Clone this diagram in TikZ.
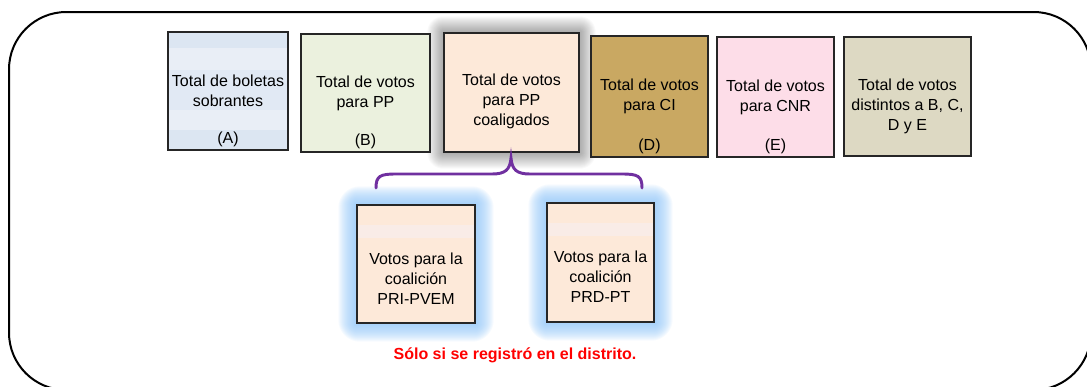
\documentclass[tikz,border=0pt]{standalone}
\usepackage{fontspec}
\setmainfont{Liberation Sans}
\usetikzlibrary{positioning,backgrounds}

\definecolor{fillA}{HTML}{DCE6F2}
\definecolor{bandA}{HTML}{E9EEF6}
\definecolor{fillB}{HTML}{EBF1DE}
\definecolor{fillC}{HTML}{FDE9D9}
\definecolor{bandC}{HTML}{F9ECE7}
\definecolor{fillD}{HTML}{C9A862}
\definecolor{fillE}{HTML}{FDDDE8}
\definecolor{fillF}{HTML}{DDD9C3}
\definecolor{glowblue}{HTML}{8EC4F8}
\definecolor{braceviolet}{HTML}{7030A0}

\begin{document}
\begin{tikzpicture}[x=0.75pt, y=-0.75pt,
    votebox/.style={draw=black!85, line width=1.1pt, inner sep=2pt, align=center,
      font=\fontsize{12}{15}\selectfont},
    tagtext/.style={anchor=south, inner sep=2.5pt, font=\fontsize{12}{15}\selectfont},
    brace/.style={draw=braceviolet, line width=2.2pt, line cap=round},
    glowb/.style={fill=glowblue, opacity=0.075},
    glowg/.style={fill=black, opacity=0.022},
    notetext/.style={text=red, font=\bfseries\fontsize{12}{15}\selectfont}
  ]
  \useasboundingbox (0,0) rectangle (1087,386);
  \clip (0,0) rectangle (1087,386);

  % outer frame
  \draw[line width=1.5pt, rounded corners=43pt] (9,12) rectangle (1091,390);

  % top row
  \node[votebox, fill=fillA, minimum width=90pt, minimum height=88.5pt,
    path picture={
      \fill[bandA] ([yshift=-12pt]path picture bounding box.north west)
        rectangle ([yshift=-28.5pt]path picture bounding box.north east);
      \fill[bandA] ([yshift=-58.5pt]path picture bounding box.north west)
        rectangle ([yshift=-73.5pt]path picture bounding box.north east);
      \fill[fillA!60!bandA] ([yshift=-28.5pt]path picture bounding box.north west)
        rectangle ([yshift=-58.5pt]path picture bounding box.north east);
    },
    label={[tagtext]south:(A)}] (sobr) at (228,91)
    {Total de boletas\\sobrantes};
  \node[votebox, fill=fillB, minimum width=96.75pt, minimum height=88.5pt,
    label={[tagtext]south:(B)}] (pp) at (365.5,93)
    {Total de votos\\para PP};
  \node[votebox, fill=fillC, minimum width=101.25pt, minimum height=89.25pt]
    (coal) at (511.5,92.5) {\rule{0pt}{22pt}Total de votos\\para PP\\coaligados};
  \node[votebox, fill=fillD, minimum width=87.75pt, minimum height=90.75pt,
    label={[tagtext]south:(D)}] (ci) at (649.5,96.5)
    {Total de votos\\para CI};
  \node[votebox, fill=fillE, minimum width=87.75pt, minimum height=90pt,
    label={[tagtext]south:(E)}] (cnr) at (775.5,97)
    {Total de votos\\para CNR};
  \node[votebox, fill=fillF, minimum width=95.25pt, minimum height=89.25pt]
    (dist) at (907.5,96.5) {\rule{0pt}{23pt}Total de votos\\distintos a B, C,\\D y E};

  % coalitions
  \node[votebox, fill=fillC, minimum width=88.5pt, minimum height=88.5pt,
    path picture={
      \fill[bandC] ([yshift=-15pt]path picture bounding box.north west)
        rectangle ([yshift=-25pt]path picture bounding box.north east);
    }] (pvem) at (416,264)
    {\rule{0pt}{30pt}Votos para la\\coalición\\PRI-PVEM};
  \node[votebox, fill=fillC, minimum width=80.25pt, minimum height=89.25pt,
    path picture={
      \fill[bandC] ([yshift=-15pt]path picture bounding box.north west)
        rectangle ([yshift=-25pt]path picture bounding box.north east);
    }] (prdpt) at (600.5,262.5)
    {\rule{0pt}{30pt}Votos para la\\coalición\\PRD-PT};

  % glows
  \begin{scope}[on background layer]
    \foreach \r in {1,...,16}
      \fill[glowg, rounded corners=\r*0.75pt]
        ([shift={(-\r,-\r)}]coal.north west) rectangle ([shift={(\r,\r)}]coal.south east);
    \foreach \n in {pvem,prdpt}
      \foreach \r in {1,...,18}
        \fill[glowb, rounded corners=\r*0.9pt]
          ([shift={(-\r,-\r)}]\n.north west) rectangle ([shift={(\r,\r)}]\n.south east);
  \end{scope}

  % brace
  \coordinate (bl) at (376,188);
  \coordinate (br) at (642,188);
  \coordinate (bt) at (511,158);
  \draw[brace] (bl) .. controls (376,176) and (380,174) .. (396,174) -- (492,174)
    .. controls (505,174) and (510,170) .. (bt)
    .. controls (512,170) and (517,174) .. (530,174) -- (622,174)
    .. controls (638,174) and (642,176) .. (br);

  \node[notetext] (note) at (515,355) {Sólo si se registró en el distrito.};
\end{tikzpicture}
\end{document}
